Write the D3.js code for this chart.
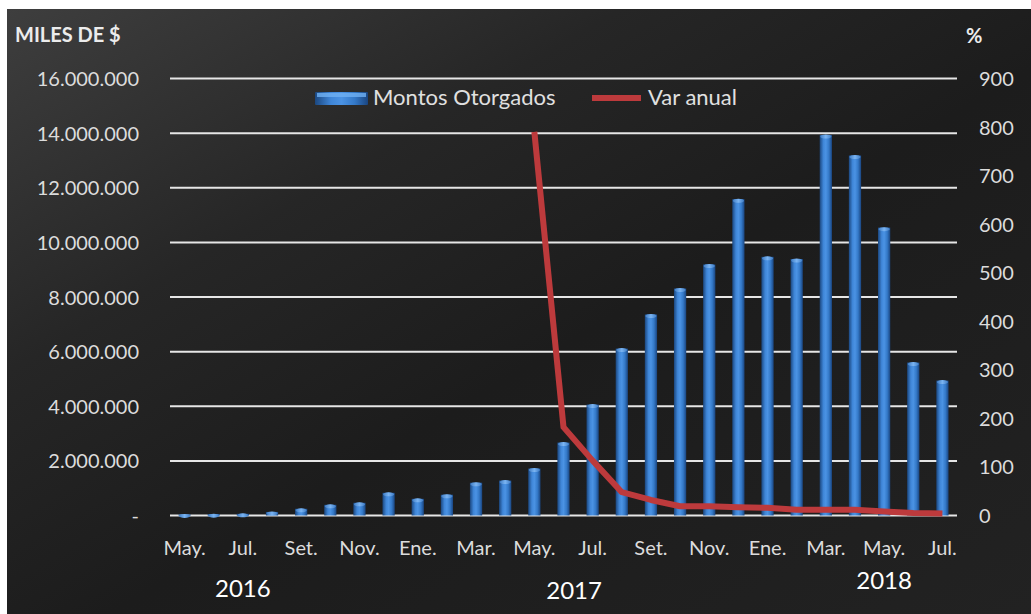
<!DOCTYPE html>
<html>
<head>
<meta charset="utf-8">
<script src="https://cdn.jsdelivr.net/npm/d3@7/dist/d3.min.js"></script>
<style>
  html, body { margin: 0; padding: 0; background: #ffffff; }
  svg { display: block; }
  text { font-family: Lato, "Open Sans", sans-serif; }
</style>
</head>
<body>
<svg id="chart" width="1031" height="614"></svg>
<script>
// ---- data ----
const months = ["May.","Jun.","Jul.","Ago.","Set.","Oct.","Nov.","Dic.","Ene.","Feb.","Mar.","Abr.",
                "May.","Jun.","Jul.","Ago.","Set.","Oct.","Nov.","Dic.","Ene.","Feb.","Mar.","Abr.",
                "May.","Jun.","Jul."];
const montos = [40000, 50000, 60000, 130000, 245000, 390000, 465000, 830000, 610000, 760000, 1200000, 1280000,
                1720000, 2670000, 4060000, 6110000, 7360000, 8310000, 9190000, 11580000, 9470000, 9390000,
                13930000, 13180000, 10540000, 5600000, 4940000];
const varAnual = [null, null, null, null, null, null, null, null, null, null, null, null,
                  790, 182, 113, 48, 32, 19, 19, 17, 16, 12, 12, 12, 8, 5, 4];
const leftTicks = [0, 2000000, 4000000, 6000000, 8000000, 10000000, 12000000, 14000000, 16000000];
const rightTicks = [0, 100, 200, 300, 400, 500, 600, 700, 800, 900];
const years = ["2016", "2017", "2018"];
const seriesNames = ["Montos Otorgados", "Var anual"];

// ---- layout ----
const W = 1031, H = 614;
const plot = { left: 170, right: 957, top: 78.5, bottom: 515.5 };
const svg = d3.select("#chart");
const defs = svg.append("defs");

const bg = defs.append("linearGradient").attr("id", "bg")
  .attr("x1", "0").attr("y1", "0").attr("x2", "1").attr("y2", "1");
bg.append("stop").attr("offset", "0%").attr("stop-color", "#3e3e3e");
bg.append("stop").attr("offset", "30%").attr("stop-color", "#262626");
bg.append("stop").attr("offset", "55%").attr("stop-color", "#1c1c1c");
bg.append("stop").attr("offset", "100%").attr("stop-color", "#222222");

const barGrad = defs.append("linearGradient").attr("id", "barGrad")
  .attr("x1", "0").attr("y1", "0").attr("x2", "1").attr("y2", "0");
barGrad.append("stop").attr("offset", "0%").attr("stop-color", "#1b477f");
barGrad.append("stop").attr("offset", "30%").attr("stop-color", "#3f86d8");
barGrad.append("stop").attr("offset", "50%").attr("stop-color", "#4b93e4");
barGrad.append("stop").attr("offset", "75%").attr("stop-color", "#3479c8");
barGrad.append("stop").attr("offset", "100%").attr("stop-color", "#1a4580");

const capGrad = defs.append("linearGradient").attr("id", "capGrad")
  .attr("x1", "0").attr("y1", "0").attr("x2", "1").attr("y2", "0");
capGrad.append("stop").attr("offset", "0%").attr("stop-color", "#3f7cc4");
capGrad.append("stop").attr("offset", "50%").attr("stop-color", "#7ab4f2");
capGrad.append("stop").attr("offset", "100%").attr("stop-color", "#3f7cc4");

svg.append("rect").attr("x", 7).attr("y", 9).attr("width", W - 7).attr("height", H - 9)
  .attr("fill", "url(#bg)");

// ---- scales ----
const x = d3.scaleBand().domain(d3.range(months.length))
  .range([plot.left, plot.right]).paddingInner(0.58).paddingOuter(0.29);
const xc = i => x(i) + x.bandwidth() / 2;
const yL = d3.scaleLinear().domain([0, 16000000]).range([plot.bottom, plot.top]);
const yR = d3.scaleLinear().domain([0, 900]).range([plot.bottom, plot.top]);

// ---- gridlines ----
svg.append("g").selectAll("line").data(leftTicks).join("line")
  .attr("x1", plot.left).attr("x2", plot.right)
  .attr("y1", d => yL(d)).attr("y2", d => yL(d))
  .attr("stroke", "#e6e6e6").attr("stroke-width", 2);

// ---- axes ----
const fmt = d => d === 0 ? "-" : d3.format(",")(d).replace(/,/g, ".");
const leftAxis = d3.axisLeft(yL).tickValues(leftTicks).tickFormat(fmt).tickSize(0).tickPadding(0);
const gL = svg.append("g").attr("transform", "translate(139,0)").call(leftAxis);
gL.select(".domain").remove();
gL.selectAll("text").attr("fill", "#dcdcdc").style("font-size", "20px").attr("dy", "0.35em");

const rightAxis = d3.axisRight(yR).tickValues(rightTicks).tickSize(0).tickPadding(0);
const gR = svg.append("g").attr("transform", "translate(979,0)").call(rightAxis);
gR.select(".domain").remove();
gR.selectAll("text").attr("fill", "#dcdcdc").style("font-size", "20px").attr("dy", "0.35em");

const bottomAxis = d3.axisBottom(x).tickSize(0).tickPadding(0)
  .tickFormat(i => i % 2 === 0 ? months[i] : "");
const gB = svg.append("g").attr("transform", "translate(0,541)").call(bottomAxis);
gB.select(".domain").remove();
gB.selectAll("text").attr("fill", "#dcdcdc").style("font-size", "20px").attr("dy", "0.7em");

// ---- bars ----
const bars = svg.append("g");
bars.selectAll("rect").data(montos).join("rect")
  .attr("x", (d, i) => x(i)).attr("width", x.bandwidth())
  .attr("y", d => yL(d)).attr("height", d => plot.bottom - yL(d))
  .attr("fill", "url(#barGrad)");
bars.selectAll("ellipse").data(montos).join("ellipse")
  .attr("cx", (d, i) => xc(i)).attr("cy", d => yL(d) + 1.5)
  .attr("rx", x.bandwidth() / 2 - 0.5).attr("ry", 2)
  .attr("fill", "url(#capGrad)");

// ---- line ----
const line = d3.line().defined(d => d != null).x((d, i) => xc(i)).y(d => yR(d));
svg.append("path").datum(varAnual).attr("d", line)
  .attr("fill", "none").attr("stroke", "#bd3a3c").attr("stroke-width", 6)
  .attr("stroke-linejoin", "round");

// ---- titles ----
svg.append("text").attr("x", 15).attr("y", 42).text("MILES DE $")
  .attr("fill", "#ececec").style("font-size", "20px").style("font-weight", "bold");
svg.append("text").attr("x", 966).attr("y", 43).text("%")
  .attr("fill", "#ececec").style("font-size", "20px").style("font-weight", "bold");

// ---- year labels ----
const yearPos = [xc(2), (xc(13) + xc(14)) / 2 - 4, xc(24)];
const yearY = [597, 599, 589];
svg.append("g").selectAll("text").data(years).join("text")
  .attr("x", (d, i) => yearPos[i]).attr("y", (d, i) => yearY[i])
  .attr("text-anchor", "middle").text(d => d)
  .attr("fill", "#ffffff").style("font-size", "24px");

// ---- legend ----
const lg = svg.append("g");
lg.append("rect").attr("x", 315).attr("y", 92).attr("width", 53).attr("height", 13)
  .attr("fill", "url(#barGrad)").attr("rx", 1);
lg.append("rect").attr("x", 317).attr("y", 93).attr("width", 49).attr("height", 4)
  .attr("fill", "#6fb0f2").attr("opacity", 0.8);
lg.append("text").attr("x", 373).attr("y", 105).text(seriesNames[0])
  .attr("fill", "#e0e0e0").style("font-size", "22px");
lg.append("line").attr("x1", 592).attr("x2", 641).attr("y1", 98).attr("y2", 98)
  .attr("stroke", "#bd3a3c").attr("stroke-width", 6);
lg.append("text").attr("x", 648).attr("y", 105).text(seriesNames[1])
  .attr("fill", "#e0e0e0").style("font-size", "22px");
</script>
</body>
</html>
